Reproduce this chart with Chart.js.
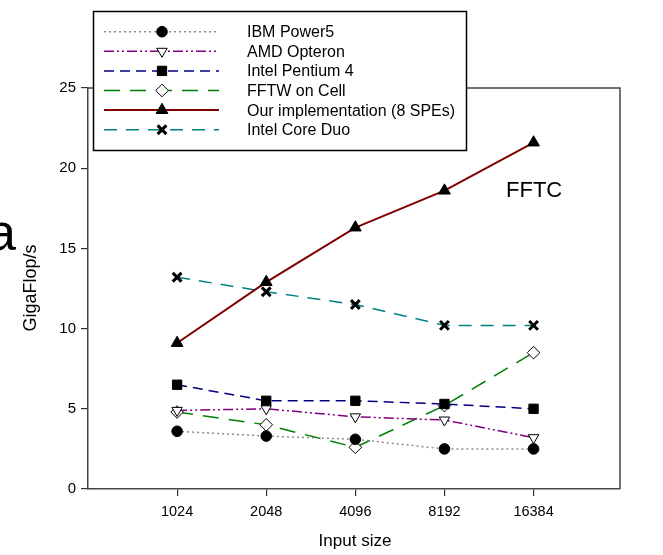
<!DOCTYPE html>
<html>
<head>
<meta charset="utf-8">
<script src="https://cdn.jsdelivr.net/npm/chart.js@4.4.1/dist/chart.umd.min.js"></script>
<style>
  html, body { margin: 0; padding: 0; background: #fff; }
  #wrap { width: 663px; height: 555px; position: relative; }
</style>
</head>
<body>
<div id="wrap"><canvas id="fftChart" width="663" height="555"></canvas></div>
<script>
// data
const inputSizes = ['1024', '2048', '4096', '8192', '16384'];
const yTickValues = [0, 5, 10, 15, 20, 25];

const ibmPower5 = [3.6, 3.3, 3.1, 2.5, 2.5];
const amdOpteron = [4.9, 5.0, 4.5, 4.3, 3.2];
const intelPentium4 = [6.5, 5.5, 5.5, 5.3, 5.0];
const fftwOnCell = [4.8, 4.0, 2.6, 5.2, 8.5];
const ourImplementation = [9.1, 12.9, 16.3, 18.6, 21.6];
const intelCoreDuo = [13.2, 12.3, 11.5, 10.2, 10.2];

const FONT = '"Liberation Sans", Arial, sans-serif';

const toPoints = vals => vals.map((v, i) => ({ x: i, y: v }));

const series = (label, vals, color, dash, style, extra) => Object.assign({
    label: label,
    data: toPoints(vals),
    borderColor: color,
    borderWidth: 1.5,
    borderDash: dash,
    pointStyle: style,
    pointRadius: 5,
    pointHoverRadius: 5,
    pointBackgroundColor: '#000',
    pointBorderColor: '#000',
    pointBorderWidth: 1,
    pointRotation: 0,
    fill: false,
    tension: 0
}, extra || {});

const datasets = [
    series('IBM Power5', ibmPower5, '#8c8c8c', [2, 3], 'circle', { pointRadius: 5.3 }),
    series('AMD Opteron', amdOpteron, '#800080', [10, 3, 2, 3, 2, 3], 'triangle',
        { pointBackgroundColor: '#fff', pointRotation: 180, pointRadius: 6 }),
    series('Intel Pentium 4', intelPentium4, '#000080', [10, 6], 'rect', { pointRadius: 6.6 }),
    series('FFTW on Cell', fftwOnCell, '#008000', [16, 10], 'rectRot',
        { pointBackgroundColor: '#fff', pointRadius: 6.3 }),
    series('Our implementation (8 SPEs)', ourImplementation, '#800000', [], 'triangle',
        { borderWidth: 2, pointRadius: 6.8 }),
    series('Intel Core Duo', intelCoreDuo, '#008080', [13, 9], 'crossRot',
        { pointBorderWidth: 3, pointRadius: 6.2 })
];

// frame, texts and the boxed legend
const decorations = {
    id: 'decorations',
    beforeDatasetsDraw(chart) {
        const { ctx, chartArea: a } = chart;
        ctx.save();
        ctx.strokeStyle = '#444';
        ctx.lineWidth = 1.5;
        ctx.beginPath();
        ctx.moveTo(a.left, a.top);
        ctx.lineTo(a.right, a.top);
        ctx.lineTo(a.right, a.bottom);
        ctx.stroke();
        ctx.restore();
    },
    afterDraw(chart) {
        const { ctx } = chart;
        ctx.save();

        // axis titles
        ctx.fillStyle = '#000';
        ctx.font = '17px ' + FONT;
        ctx.textAlign = 'center';
        ctx.textBaseline = 'middle';
        ctx.fillText('Input size', 355, 541);

        ctx.save();
        ctx.translate(31, 288);
        ctx.rotate(-Math.PI / 2);
        ctx.font = '18px ' + FONT;
        ctx.fillText('GigaFlop/s', 0, 0);
        ctx.restore();

        ctx.font = '22px ' + FONT;
        ctx.textAlign = 'left';
        ctx.fillText('FFTC', 506, 191);

        ctx.font = '52px ' + FONT;
        ctx.textAlign = 'right';
        ctx.textBaseline = 'alphabetic';
        ctx.fillText('a', 16, 250);

        // legend
        ctx.fillStyle = '#fff';
        ctx.fillRect(93.5, 11.5, 373, 139);
        ctx.strokeStyle = '#000';
        ctx.lineWidth = 1.5;
        ctx.strokeRect(93.5, 11.5, 373, 139);

        chart.data.datasets.forEach((ds, i) => {
            const y = 31.7 + i * 19.6;
            ctx.save();
            ctx.strokeStyle = ds.borderColor;
            ctx.lineWidth = ds.borderWidth;
            ctx.setLineDash(ds.borderDash);
            ctx.beginPath();
            ctx.moveTo(104, y);
            ctx.lineTo(219, y);
            ctx.stroke();
            ctx.restore();

            ctx.save();
            ctx.fillStyle = ds.pointBackgroundColor;
            ctx.strokeStyle = ds.pointBorderColor;
            ctx.lineWidth = ds.pointBorderWidth;
            Chart.helpers.drawPoint(ctx, {
                pointStyle: ds.pointStyle,
                radius: ds.pointRadius,
                rotation: ds.pointRotation,
                borderWidth: ds.pointBorderWidth
            }, 162, y);
            ctx.restore();

            ctx.fillStyle = '#000';
            ctx.font = '16px ' + FONT;
            ctx.textAlign = 'left';
            ctx.textBaseline = 'middle';
            ctx.fillText(ds.label, 247, y + 1);
        });
        ctx.restore();
    }
};

new Chart(document.getElementById('fftChart').getContext('2d'), {
    type: 'line',
    data: { datasets: datasets },
    options: {
        responsive: false,
        animation: false,
        devicePixelRatio: 1,
        layout: { padding: { top: 88, right: 43, left: 0, bottom: 0 } },
        plugins: {
            legend: { display: false },
            tooltip: { enabled: false }
        },
        scales: {
            x: {
                type: 'linear',
                min: -1,
                max: 4.97,
                afterFit: s => { s.height = 66; },
                afterBuildTicks: s => { s.ticks = inputSizes.map((_, i) => ({ value: i })); },
                ticks: {
                    callback: v => inputSizes[v],
                    color: '#000',
                    font: { family: FONT, size: 14.5 },
                    padding: 7,
                    maxRotation: 0
                },
                grid: { drawOnChartArea: false, drawTicks: true, tickLength: 7, color: '#333', lineWidth: 1.2 },
                border: { display: true, color: '#444', width: 1.5 }
            },
            y: {
                min: 0,
                max: 25,
                afterFit: s => { s.width = 88; },
                afterBuildTicks: s => { s.ticks = yTickValues.map(v => ({ value: v })); },
                ticks: {
                    color: '#000',
                    font: { family: FONT, size: 15 },
                    padding: 5
                },
                grid: { drawOnChartArea: false, drawTicks: true, tickLength: 7, color: '#333', lineWidth: 1.2 },
                border: { display: true, color: '#444', width: 1.5 }
            }
        }
    },
    plugins: [decorations]
});
</script>
</body>
</html>
